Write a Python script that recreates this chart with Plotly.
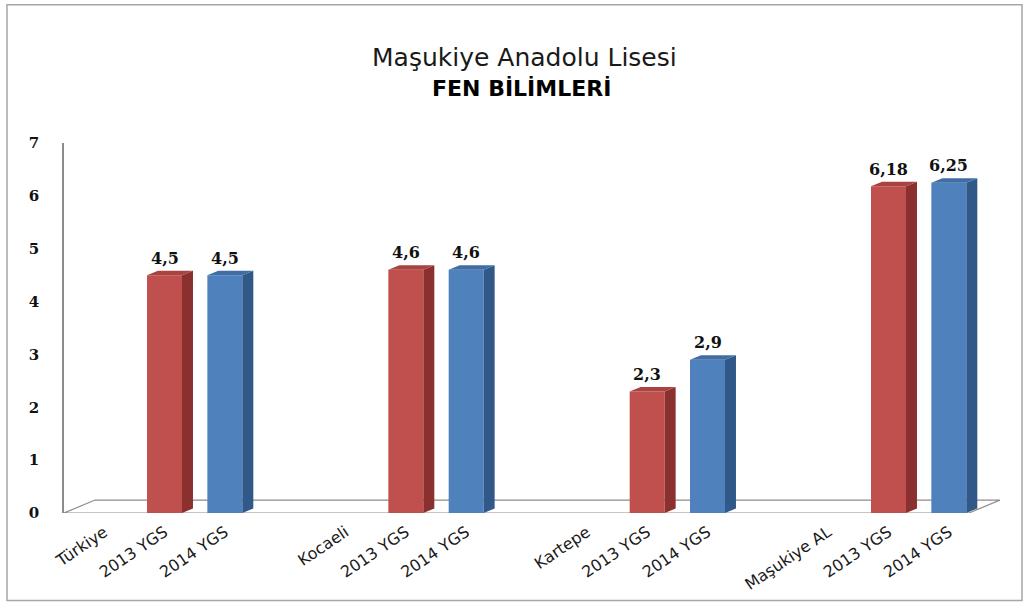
import plotly.graph_objects as go

# ---- data ----
groups = ["Türkiye", "Kocaeli", "Kartepe", "Maşukiye AL"]
series_names = ["2013 YGS", "2014 YGS"]
values_2013 = [4.5, 4.6, 2.3, 6.18]
values_2014 = [4.5, 4.6, 2.9, 6.25]
y_ticks = [0, 1, 2, 3, 4, 5, 6, 7]

title_line1 = "Maşukiye Anadolu Lisesi"
title_line2 = "FEN BİLİMLERİ"

# ---- styles ----
front_colors = ["#C0504D", "#4F81BD"]
side_colors = ["#8A302E", "#30598A"]
top_colors = ["#A9433F", "#3F6DA4"]

W, H = 1029, 606
M_L, M_R, M_T, M_B = 64, 29, 143, 91
PW, PH = W - M_L - M_R, H - M_T - M_B

# category slots (group label slot, two bar slots, blank gap)
slots = []
for gi, g in enumerate(groups):
    slots.append(g)
    slots.extend(series_names)
    if gi < len(groups) - 1:
        slots.append("")
tickvals = [i for i, s in enumerate(slots) if s]
ticktext = [s for s in slots if s]

x_2013 = [i for i, s in enumerate(slots) if s == series_names[0]]
x_2014 = [i for i, s in enumerate(slots) if s == series_names[1]]

X_RANGE = [-0.666, 14.848]
Y_RANGE = [0, 7]
BAR_W = 0.58
DX, DY = 0.182, 0.085          # 3D depth of a bar (data units)
FLOOR_DX, FLOOR_DY = 0.514, 0.245  # floor depth (data units)

fig = go.Figure()
shapes = []
annotations = []

# floor
shapes.append(dict(
    type="path", xref="x", yref="y", layer="below",
    path=(f"M {X_RANGE[0]},{Y_RANGE[0]} L {X_RANGE[0]+FLOOR_DX},{FLOOR_DY} "
          f"L {X_RANGE[1]},{FLOOR_DY} L {X_RANGE[1]-FLOOR_DX},{Y_RANGE[0]} Z"),
    line=dict(color="#8C8C8C", width=1.2), fillcolor="white"))

for si, (xs, vals) in enumerate([(x_2013, values_2013), (x_2014, values_2014)]):
    fig.add_trace(go.Bar(
        x=xs, y=vals, width=BAR_W, name=series_names[si],
        marker=dict(color=front_colors[si], line=dict(width=0)),
        hoverinfo="x+y", showlegend=False))
    for x, v in zip(xs, vals):
        xl, xr = x - BAR_W / 2, x + BAR_W / 2
        # side face
        shapes.append(dict(
            type="path", xref="x", yref="y", layer="above",
            path=f"M {xr},0 L {xr+DX},{DY} L {xr+DX},{v+DY} L {xr},{v} Z",
            fillcolor=side_colors[si], line=dict(width=0)))
        # top face
        shapes.append(dict(
            type="path", xref="x", yref="y", layer="above",
            path=f"M {xl},{v} L {xl+DX},{v+DY} L {xr+DX},{v+DY} L {xr},{v} Z",
            fillcolor=top_colors[si], line=dict(width=0)))
        annotations.append(dict(
            x=x, y=v + DY, xref="x", yref="y",
            text=f"{v:g}".replace(".", ","), showarrow=False,
            yanchor="bottom", yshift=1,
            font=dict(family="DejaVu Serif", size=16, color="#111111", weight="bold")))

# outer border (pixel -> paper)
def px_x(px):
    return (px - M_L) / PW

def px_y(py):
    return (H - M_B - py) / PH

shapes.append(dict(
    type="rect", xref="paper", yref="paper", layer="below",
    x0=px_x(7), x1=px_x(1022), y0=px_y(603), y1=px_y(4),
    line=dict(color="#A6A6A6", width=1.5), fillcolor="rgba(0,0,0,0)"))

annotations.append(dict(
    text=title_line1, xref="paper", yref="paper", x=px_x(524), y=px_y(57),
    xanchor="center", yanchor="middle", showarrow=False,
    font=dict(family="DejaVu Sans", size=25, color="#1a1a1a")))
annotations.append(dict(
    text=f"<b>{title_line2}</b>", xref="paper", yref="paper", x=px_x(521), y=px_y(88),
    xanchor="center", yanchor="middle", showarrow=False,
    font=dict(family="DejaVu Sans", size=22, color="#000000")))

fig.update_layout(
    width=W, height=H,
    margin=dict(l=M_L, r=M_R, t=M_T, b=M_B),
    paper_bgcolor="white", plot_bgcolor="white",
    barmode="overlay",
    shapes=shapes, annotations=annotations,
    xaxis=dict(
        range=X_RANGE, tickmode="array", tickvals=tickvals, ticktext=ticktext,
        tickangle=-34, showgrid=False, zeroline=False, showline=False,
        ticks="", ticklabelstandoff=6,
        tickfont=dict(family="DejaVu Sans", size=16, color="#1a1a1a")),
    yaxis=dict(
        range=Y_RANGE, tickmode="array", tickvals=y_ticks,
        ticktext=[str(t) for t in y_ticks],
        showgrid=False, zeroline=False, showline=True,
        linecolor="#8C8C8C", linewidth=1.5, ticks="", ticklabelstandoff=20,
        tickfont=dict(family="DejaVu Serif", size=15, color="#111111", weight="bold")),
)

fig.write_html("out.html", config={"displayModeBar": False},
               post_script="document.body.style.margin='0';")
